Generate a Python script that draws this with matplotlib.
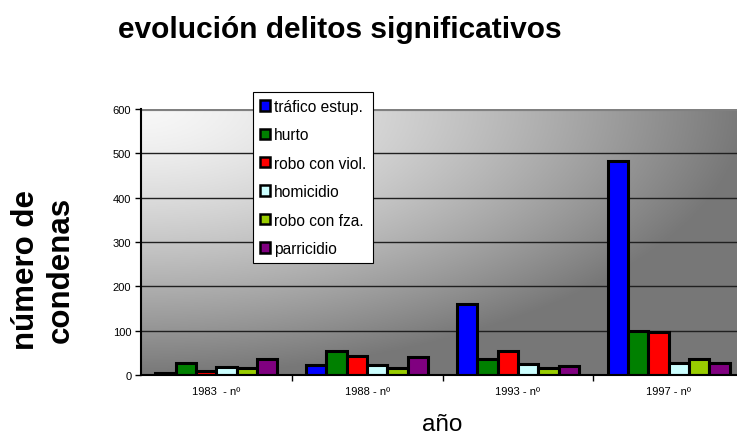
import numpy as np
import matplotlib
matplotlib.use("Agg")
import matplotlib.pyplot as plt
from matplotlib.patches import Patch

plt.rcParams['font.family'] = ['Liberation Sans', 'DejaVu Sans']

years = ["1983  - nº", "1988 - nº", "1993 - nº", "1997 - nº"]
series_names = ["tráfico estup.", "hurto", "robo con viol.", "homicidio", "robo con fza.", "parricidio"]
trafico = [5, 22, 160, 483]
hurto = [27, 55, 35, 100]
robo_viol = [10, 42, 54, 96]
homicidio = [17, 22, 24, 28]
robo_fza = [15, 15, 15, 36]
parricidio = [35, 40, 21, 27]
yticks = [0, 100, 200, 300, 400, 500, 600]

series_values = [trafico, hurto, robo_viol, homicidio, robo_fza, parricidio]
colors = ["#0000FF", "#008000", "#FF0000", "#CCFFFF", "#99CC00", "#800080"]

fig = plt.figure(figsize=(7.37, 4.35), dpi=100)
ax = fig.add_axes([141/737, 1 - 376/435, (744 - 141)/737, (376 - 110)/435])

# gradient background
gx = np.linspace(0, 1, 400)
gy = np.linspace(0, 1, 200)
X, Y = np.meshgrid(gx, gy)
d = np.clip(np.sqrt(X**2 + Y**2), 0, 1)
v = 0.97 - 0.5 * d**1.4
img = np.dstack([v, v, v])
ax.imshow(img, extent=[0, 1, 0, 1], transform=ax.transAxes, aspect='auto', zorder=0, origin='upper')

x = np.arange(len(years))
n = len(series_values)
w = 0.135
for i, (vals, c) in enumerate(zip(series_values, colors)):
    ax.bar(x + (i - (n - 1) / 2) * w, vals, width=w, color=c, edgecolor='black', linewidth=2.2, zorder=3)

ax.set_xlim(-0.5, 3.5)
ax.set_ylim(0, 600)
ax.set_yticks(yticks)
ax.set_yticklabels([str(t) for t in yticks], fontsize=8)
for t in yticks[1:-1]:
    ax.axhline(t, color='#202020', linewidth=1, zorder=1)
ax.axhline(600, color='#808080', linewidth=3, zorder=1)

ax.set_xticks(x)
ax.set_xticklabels(years, fontsize=8)
ax.tick_params(axis='x', which='major', length=0, pad=8)
ax.set_xticks([0.5, 1.5, 2.5], minor=True)
ax.tick_params(axis='x', which='minor', length=4, width=1, direction='out')
ax.tick_params(axis='y', length=4, width=1, direction='out', pad=3)

for s in ['top', 'right']:
    ax.spines[s].set_visible(False)
for s in ['left', 'bottom']:
    ax.spines[s].set_linewidth(1.5)
    ax.spines[s].set_color('black')
    ax.spines[s].set_zorder(4)

handles = [Patch(facecolor=c, edgecolor='black', linewidth=1.8) for c in colors]
leg = fig.legend(handles, series_names, loc='upper left', bbox_to_anchor=(253/737, 1 - 93/435),
                 fontsize=11.2, frameon=True, fancybox=False, edgecolor='black', framealpha=1,
                 handlelength=0.65, handleheight=0.65, handletextpad=0.25, labelspacing=0.86,
                 borderpad=0.45, borderaxespad=0)
leg.get_frame().set_linewidth(0.8)

fig.text(340/737, 1 - 30/435, "evolución delitos significativos", fontsize=21.5, fontweight='bold',
         ha='center', va='center')
fig.text(43/737, 1 - 270/435, "número de\ncondenas", fontsize=22.5, fontweight='bold',
         ha='center', va='center', rotation=90, linespacing=1.2)
fig.text(442/737, 1 - 425/435, "año", fontsize=17.5, ha='center', va='center')

fig.savefig("out.png", dpi=100)
